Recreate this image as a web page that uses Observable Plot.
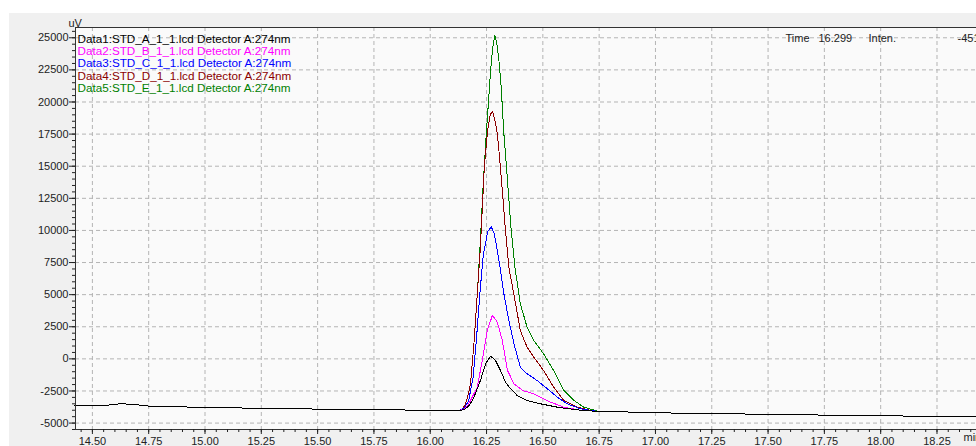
<!DOCTYPE html>
<html>
<head>
<meta charset="utf-8">
<script src="https://cdn.jsdelivr.net/npm/d3@7"></script>
<script src="https://cdn.jsdelivr.net/npm/@observablehq/plot@0.6"></script>
<style>
  html, body { margin: 0; padding: 0; background: #ffffff; overflow: hidden; width: 976px; height: 446px; }
  #bg { position: absolute; left: 9px; top: 13px; width: 967px; height: 433px; background: #f0f0f0; }
  #chart { position: absolute; left: 0; top: 0; width: 1010px; height: 446px; }
</style>
</head>
<body>
<div id="bg"></div>
<div id="chart"></div>
<script>
// ---- data (time in min, intensity in uV) ----
const seriesNames = [
  "Data1:STD_A_1_1.lcd Detector A:274nm",
  "Data2:STD_B_1_1.lcd Detector A:274nm",
  "Data3:STD_C_1_1.lcd Detector A:274nm",
  "Data4:STD_D_1_1.lcd Detector A:274nm",
  "Data5:STD_E_1_1.lcd Detector A:274nm"
];
const seriesColors = ["#000000", "#ff00ff", "#0000ff", "#8b0000", "#008000"];

// common baseline before the peak
const baseT = [14.42, 14.5, 14.565, 14.6, 14.63, 14.67, 14.713, 14.75, 14.8, 14.9, 15.0, 15.25, 15.5, 15.75, 16.0, 16.12];
const baseV = [-3640, -3640, -3610, -3530, -3500, -3530, -3600, -3680, -3700, -3740, -3780, -3850, -3910, -3960, -4000, -4020];

// common baseline after the peak
const tailT = [16.78, 17.0, 17.25, 17.5, 17.75, 18.0, 18.25, 18.55];
const tailV = [-4090, -4195, -4270, -4310, -4380, -4430, -4480, -4560];

// Data1 (A, black)
const aT = [16.13, 16.15, 16.17, 16.19, 16.2, 16.223, 16.246, 16.268, 16.29, 16.312, 16.334, 16.357, 16.386, 16.43, 16.49, 16.564, 16.638, 16.7];
const aV = [-4020, -3950, -3700, -3150, -2720, -1680, -380, 210, -125, -900, -1810, -2330, -2850, -3240, -3500, -3760, -3940, -4050];

// Data2 (B, magenta)
const bT = [16.13, 16.15, 16.165, 16.179, 16.209, 16.231, 16.253, 16.276, 16.298, 16.32, 16.343, 16.372, 16.41, 16.46, 16.49, 16.534, 16.593, 16.66, 16.72];
const bV = [-4020, -3900, -3650, -3240, -2200, -125, 2210, 3380, 2860, 1430, -900, -1940, -2460, -2720, -2980, -3370, -3760, -3980, -4060];

// Data3 (C, blue)
const cT = [16.13, 16.15, 16.17, 16.19, 16.205, 16.22, 16.235, 16.255, 16.271, 16.285, 16.298, 16.312, 16.327, 16.349, 16.372, 16.4, 16.43, 16.474, 16.52, 16.564, 16.608, 16.667, 16.73];
const cV = [-4020, -3850, -3300, -1500, 1500, 5000, 8000, 9900, 10280, 9700, 8440, 6880, 5070, 2990, 1170, -650, -1160, -1680, -2330, -2980, -3500, -3890, -4060];

// Data4 (D, dark red)
const dT = [16.13, 16.145, 16.157, 16.168, 16.179, 16.194, 16.209, 16.222, 16.232, 16.24, 16.255, 16.266, 16.276, 16.287, 16.298, 16.305, 16.32, 16.334, 16.349, 16.379, 16.4, 16.43, 16.46, 16.503, 16.548, 16.593, 16.653, 16.72];
const dV = [-4020, -3850, -3500, -2800, -1940, 1170, 5070, 8500, 12000, 14900, 17800, 19000, 19280, 18600, 17530, 16230, 13120, 10000, 7140, 4290, 2210, 910, 130, -900, -2200, -3240, -3760, -4060];

// Data5 (E, green)
const eT = [16.13, 16.145, 16.157, 16.168, 16.179, 16.194, 16.209, 16.222, 16.235, 16.249, 16.258, 16.268, 16.278, 16.287, 16.296, 16.305, 16.315, 16.327, 16.343, 16.357, 16.376, 16.4, 16.43, 16.46, 16.503, 16.548, 16.593, 16.638, 16.682, 16.74];
const eV = [-4020, -3850, -3500, -2800, -1940, 1170, 5070, 9000, 13500, 17530, 19860, 22460, 24300, 25180, 24500, 23230, 21150, 17530, 13900, 10520, 7140, 4290, 2470, 1430, 400, -900, -2460, -3240, -3760, -4060];

// axis ticks
const xTicks = [14.5, 14.75, 15.0, 15.25, 15.5, 15.75, 16.0, 16.25, 16.5, 16.75, 17.0, 17.25, 17.5, 17.75, 18.0, 18.25, 18.5];
const yTicks = [-5000, -2500, 0, 2500, 5000, 7500, 10000, 12500, 15000, 17500, 20000, 22500, 25000];
const xMinorTicks = d3.range(14.45, 18.52, 0.05).map(v => Math.round(v * 100) / 100);
const yMinorTicks = d3.range(-5500, 25801, 500);

const cursorTime = "16.299";
const cursorInten = "-451";

// ---- build ----
function rows(ts, vs) { return ts.map((t, i) => ({t, v: vs[i]})); }
const pre = rows(baseT, baseV);
const post = rows(tailT, tailV);
const peaks = [rows(aT, aV), rows(bT, bV), rows(cT, cV), rows(dT, dV), rows(eT, eV)];
const series = peaks.map(p => [...pre, ...p, ...post]);

const font = "'Liberation Sans', Arial, sans-serif";
const lineMarks = [];
for (let i = series.length - 1; i >= 0; i--) {
  lineMarks.push(Plot.line(series[i], {x: "t", y: "v", stroke: seriesColors[i], strokeWidth: 1, shapeRendering: "crispEdges"}));
}
const legendMarks = seriesNames.map((name, i) =>
  Plot.text([name], {frameAnchor: "top-left", text: d => d, dx: 2, dy: 7 + i * 12.3, fill: seriesColors[i], textAnchor: "start", fontSize: 11.7})
);

const chart = Plot.plot({
  width: 1010,
  height: 446,
  marginLeft: 75,
  marginRight: 10,
  marginTop: 27,
  marginBottom: 17,
  style: {background: "transparent", fontFamily: font, fontSize: "11px", maxWidth: "none", overflow: "visible", color: "#222"},
  x: {domain: [14.425, 18.532]},
  y: {domain: [-5500, 25800]},
  marks: [
    Plot.frame({fill: "#fafafa", stroke: null}),
    Plot.gridX(xTicks, {stroke: "#b4b4b4", strokeOpacity: 1, strokeDasharray: "4,3"}),
    Plot.gridY(yTicks, {stroke: "#b4b4b4", strokeOpacity: 1, strokeDasharray: "4,3"}),
    ...lineMarks,
    Plot.frame({stroke: "#333", strokeWidth: 1}),
    Plot.axisY(yTicks, {tickSize: 6, tickPadding: 1, tickFormat: d => String(d), label: null, stroke: "#222"}),
    Plot.axisY(yMinorTicks, {tickSize: 3, tickFormat: () => "", label: null, stroke: "#222"}),
    Plot.axisX(xTicks, {tickSize: 5, tickPadding: 3, tickFormat: d => d.toFixed(2), label: null, stroke: "#222"}),
    Plot.axisX(xMinorTicks, {tickSize: 3, tickFormat: () => "", label: null, stroke: "#222"}),
    ...legendMarks,
    Plot.text(["uV"], {frameAnchor: "top-left", text: d => d, dx: -7, dy: -8, textAnchor: "start", fill: "#222"}),
    Plot.text(["min"], {frameAnchor: "bottom-right", text: d => d, dx: -37, dy: 11, textAnchor: "start", fill: "#222"}),
    Plot.text(["Time"], {frameAnchor: "top-left", text: d => d, dx: 710, dy: 7, textAnchor: "start", fill: "#222"}),
    Plot.text([cursorTime], {frameAnchor: "top-left", text: d => d, dx: 743, dy: 7, textAnchor: "start", fill: "#222"}),
    Plot.text(["Inten."], {frameAnchor: "top-left", text: d => d, dx: 793, dy: 7, textAnchor: "start", fill: "#222"}),
    Plot.text([cursorInten], {frameAnchor: "top-left", text: d => d, dx: 882, dy: 7, textAnchor: "start", fill: "#222"})
  ]
});
document.getElementById("chart").appendChild(chart);
</script>
</body>
</html>
